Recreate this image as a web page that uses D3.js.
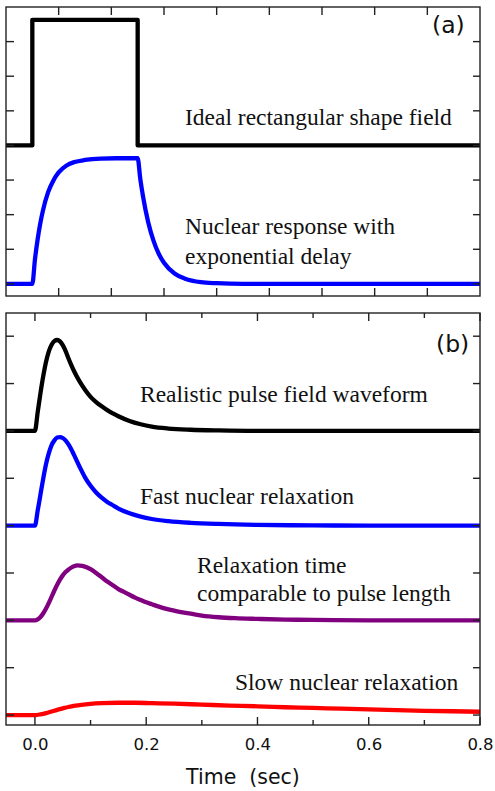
<!DOCTYPE html>
<html><head><meta charset="utf-8">
<script src="https://cdn.jsdelivr.net/npm/d3@7"></script>
<style>body{margin:0;background:#fff}</style>
</head><body><svg id="c" width="495" height="791"></svg>
<script>
// ---------- Panel (a) data ----------
const idealT = [0, 0.05, 0.05, 0.25, 0.25, 0.9];
const idealV = [0, 0, 3.63, 3.63, 0, 0];
const idealBase = 4;
const expT = [0, 0.05, 0.055, 0.06, 0.065, 0.07, 0.08, 0.09, 0.1, 0.115, 0.13, 0.15, 0.18, 0.21, 0.25,
              0.255, 0.26, 0.27, 0.28, 0.29, 0.3, 0.32, 0.34, 0.37, 0.4, 0.45, 0.5, 0.9];
const expV = [0, 0, 0.71, 1.28, 1.74, 2.11, 2.65, 2.99, 3.22, 3.42, 3.52, 3.58, 3.62, 3.63, 3.63,
              3.03, 2.54, 1.78, 1.25, 0.87, 0.61, 0.30, 0.15, 0.05, 0.02, 0, 0, 0];
const expBase = 0;

// ---------- Panel (b) data ----------
const realT = [-0.052, 0, 0.005, 0.01, 0.015, 0.02, 0.025, 0.03, 0.035, 0.04, 0.045, 0.05, 0.055, 0.06, 0.065,
               0.07, 0.08, 0.09, 0.1, 0.11, 0.12, 0.13, 0.14, 0.15, 0.17, 0.19, 0.21, 0.24, 0.28, 0.33, 0.4, 0.8];
const realV = [0, 0, 0.40, 0.80, 1.16, 1.46, 1.68, 1.82, 1.90, 1.92, 1.89, 1.81, 1.69, 1.54, 1.40,
               1.27, 1.05, 0.87, 0.72, 0.61, 0.52, 0.44, 0.37, 0.31, 0.21, 0.14, 0.09, 0.05, 0.025, 0.01, 0, 0];
const fastT = [-0.052, 0, 0.005, 0.01, 0.015, 0.02, 0.025, 0.03, 0.035, 0.04, 0.045, 0.05, 0.055, 0.06, 0.065,
               0.07, 0.08, 0.09, 0.1, 0.11, 0.12, 0.13, 0.14, 0.15, 0.17, 0.19, 0.21, 0.24, 0.28, 0.33, 0.4, 0.5, 0.6, 0.8];
const fastV = [0, 0, 0.32, 0.66, 1.0, 1.3, 1.53, 1.70, 1.80, 1.86, 1.87, 1.85, 1.80, 1.72, 1.62,
               1.50, 1.25, 1.02, 0.84, 0.70, 0.59, 0.50, 0.43, 0.36, 0.26, 0.19, 0.14, 0.095, 0.06, 0.035, 0.015, 0.005, 0, 0];
const compT = [-0.052, 0, 0.005, 0.01, 0.015, 0.02, 0.025, 0.03, 0.035, 0.04, 0.045, 0.05, 0.055, 0.06, 0.065, 0.07, 0.076,
               0.085, 0.095, 0.1, 0.11, 0.12, 0.13, 0.14, 0.15, 0.16, 0.17, 0.18, 0.19, 0.2, 0.21, 0.22, 0.24, 0.26, 0.28,
               0.3, 0.33, 0.36, 0.4, 0.45, 0.5, 0.6, 0.8];
const compV = [0, 0, 0.02, 0.07, 0.15, 0.25, 0.37, 0.50, 0.63, 0.75, 0.86, 0.95, 1.02, 1.07, 1.11, 1.14, 1.16,
               1.15, 1.11, 1.08, 1.00, 0.91, 0.82, 0.74, 0.66, 0.60, 0.54, 0.48, 0.43, 0.38, 0.34, 0.30, 0.23, 0.18, 0.14,
               0.10, 0.065, 0.045, 0.03, 0.015, 0.01, 0, 0];
const slowT = [-0.052, 0, 0.01, 0.02, 0.03, 0.04, 0.05, 0.06, 0.07, 0.08, 0.1, 0.12, 0.15, 0.18, 0.21, 0.25,
               0.3, 0.35, 0.4, 0.45, 0.5, 0.55, 0.6, 0.65, 0.7, 0.75, 0.8];
const slowV = [0, 0, 0.015, 0.04, 0.075, 0.11, 0.14, 0.17, 0.195, 0.21, 0.235, 0.25, 0.26, 0.26, 0.25, 0.24,
               0.22, 0.20, 0.185, 0.165, 0.15, 0.135, 0.12, 0.105, 0.09, 0.08, 0.07];
const baselinesB = [6, 4, 2, 0];
const colorsB = ["#000000", "#0000ff", "#800080", "#ff0000"];

const xTickLabels = ["0.0", "0.2", "0.4", "0.6", "0.8"];
const xTickValues = [0, 0.2, 0.4, 0.6, 0.8];
const xMinorValues = [0.1, 0.3, 0.5, 0.7];
const xTicksA = [0.1, 0.2, 0.3, 0.4, 0.5, 0.6, 0.7, 0.8];
const yTicks = [0, 1, 2, 3, 4, 5, 6, 7, 8];

// ---------- Scales ----------
const svg = d3.select("#c");
const L = 6, R = 480;
const xA = d3.scaleLinear().domain([0, 0.9]).range([L, R]);
const yA = d3.scaleLinear().domain([-0.35, 8]).range([296, 7]);
const xB = d3.scaleLinear().domain([-0.052, 0.8]).range([L, R]);
const yB = d3.scaleLinear().domain([-0.21, 8.49]).range([725, 313]);

const defs = svg.append("defs");
defs.append("clipPath").attr("id", "clipA").append("rect")
  .attr("x", L).attr("y", 7).attr("width", R - L).attr("height", 296 - 7);
defs.append("clipPath").attr("id", "clipB").append("rect")
  .attr("x", L).attr("y", 313).attr("width", R - L).attr("height", 725 - 313);

function drawLine(g, xs, ts, vs, base, ys, color, curve) {
  const pts = ts.map((t, i) => [t, vs[i] + base]);
  g.append("path").datum(pts)
    .attr("fill", "none").attr("stroke", color).attr("stroke-width", 4.3)
    .attr("stroke-linejoin", "round")
    .attr("d", d3.line().x(d => xs(d[0])).y(d => ys(d[1])).curve(curve));
}
const smooth = d3.curveMonotoneX;

// ---------- Panel (a) ----------
const gA = svg.append("g").attr("clip-path", "url(#clipA)");
drawLine(gA, xA, idealT, idealV, idealBase, yA, "#000", d3.curveLinear);
drawLine(gA, xA, expT, expV, expBase, yA, "#0000ff", smooth);

function frameTicks(xs, ys, top, bottom, xMaj, xMin, yT) {
  const g = svg.append("g").attr("stroke", "#222").attr("stroke-width", 1.4);
  xMaj.forEach(v => {
    g.append("line").attr("x1", xs(v)).attr("x2", xs(v)).attr("y1", bottom).attr("y2", bottom - 8);
    g.append("line").attr("x1", xs(v)).attr("x2", xs(v)).attr("y1", top).attr("y2", top + 8);
  });
  xMin.forEach(v => {
    g.append("line").attr("x1", xs(v)).attr("x2", xs(v)).attr("y1", bottom).attr("y2", bottom - 5);
    g.append("line").attr("x1", xs(v)).attr("x2", xs(v)).attr("y1", top).attr("y2", top + 5);
  });
  yT.forEach(v => {
    g.append("line").attr("x1", L).attr("x2", L + 8).attr("y1", ys(v)).attr("y2", ys(v));
    g.append("line").attr("x1", R).attr("x2", R - 7).attr("y1", ys(v)).attr("y2", ys(v));
  });
  g.append("rect").attr("x", L).attr("y", top).attr("width", R - L).attr("height", bottom - top)
    .attr("fill", "none");
}
frameTicks(xA, yA, 7, 296, xTicksA, [], yTicks.slice(0, 8));

const serif = "'Liberation Serif', 'Times New Roman', serif";
const sans = "'DejaVu Sans', Verdana, sans-serif";
function label(x, y, txt, font, size) {
  svg.append("text").attr("x", x).attr("y", y).text(txt)
    .attr("font-family", font).attr("font-size", size).attr("fill", "#111");
}
label(185, 125, "Ideal rectangular shape field", serif, 23.5);
label(185, 234, "Nuclear response with", serif, 23.5);
label(185, 264, "exponential delay", serif, 23.5);
label(432, 33, "(a)", sans, 23.5);

// ---------- Panel (b) ----------
const gB = svg.append("g").attr("clip-path", "url(#clipB)");
drawLine(gB, xB, realT, realV, baselinesB[0], yB, colorsB[0], smooth);
drawLine(gB, xB, fastT, fastV, baselinesB[1], yB, colorsB[1], smooth);
drawLine(gB, xB, compT, compV, baselinesB[2], yB, colorsB[2], smooth);
drawLine(gB, xB, slowT, slowV, baselinesB[3], yB, colorsB[3], smooth);

frameTicks(xB, yB, 313, 725, xTickValues, xMinorValues, yTicks);

const axis = d3.axisBottom(xB).tickValues(xTickValues).tickFormat((d, i) => xTickLabels[i])
  .tickSize(0).tickPadding(13.3);
const ax = svg.append("g").attr("transform", "translate(0,725)").call(axis);
ax.select(".domain").remove();
ax.selectAll("text").attr("font-family", sans).attr("font-size", 16.5).attr("fill", "#111");

label(140, 402, "Realistic pulse field waveform", serif, 23.5);
label(140, 504, "Fast nuclear relaxation", serif, 23.5);
label(197, 573, "Relaxation time", serif, 23.5);
label(197, 601, "comparable to pulse length", serif, 23.5);
label(235, 690, "Slow nuclear relaxation", serif, 23.5);
label(436, 352, "(b)", sans, 23.5);

svg.append("text").attr("x", (L + R) / 2).attr("y", 784).attr("text-anchor", "middle")
  .attr("font-family", sans).attr("font-size", 20.5).attr("fill", "#111")
  .style("white-space", "pre").text("Time  (sec)");
</script>
</body></html>
